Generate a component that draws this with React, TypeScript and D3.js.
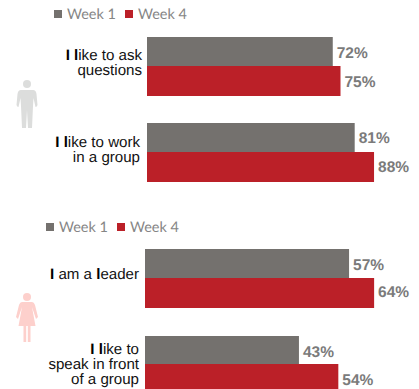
import React from "react";
import * as d3 from "d3";

const weeks = ["Week 1", "Week 4"];
const colors = ["#74716e", "#bb2028"];
const topCategories = [["I like to ask", "questions"], ["I like to work", "in a group"]];
const topWeek1 = [72, 80.5];
const topWeek4 = [75, 88];
const bottomCategories = [["I am a leader"], ["I like to", "speak in front", "of a group"]];
const bottomWeek1 = [57, 43];
const bottomWeek4 = [64, 54];

const Styled = ({ s }: { s: string }) => (
  <>
    {s.split(/(\bI\b|\bl(?=ike|eader))/).map((p, i) =>
      p === "I" || p === "l" ? <tspan key={i} fontWeight="bold" fill="#000">{p}</tspan> : <tspan key={i}>{p}</tspan>
    )}
  </>
);

const valueStyle = { fontFamily: "Liberation Sans", fontWeight: "bold", fontSize: 15.5, fill: "#7b7b7b", textRendering: "geometricPrecision" } as any;

function Group({ cats, w1, w4, x0, k, tops, h1, h2, labelX, labelYs, valDx, dy1, dy2, labelSize }: any) {
  const x = d3.scaleLinear().domain([0, 100]).range([x0, x0 + k * 100]);
  return (
    <g>
      {cats.map((c: string[], i: number) => (
        <g key={i}>
          <rect x={x0} y={tops[i]} width={x(w1[i]) - x0} height={h1[i]} fill={colors[0]} />
          <rect x={x0} y={tops[i] + h1[i]} width={x(w4[i]) - x0} height={h2[i]} fill={colors[1]} />
          <text x={x(w1[i]) + valDx} y={tops[i] + 21 + dy1[i]} style={valueStyle}>{Math.round(w1[i])}%</text>
          <text x={x(w4[i]) + valDx} y={tops[i] + h1[i] + 21 + dy2[i]} style={valueStyle}>{Math.round(w4[i])}%</text>
          {c.map((line, j) => (
            <text key={j} x={labelX[i]} y={labelYs[i] + j * 15.3} textAnchor="end" fontFamily="Liberation Sans" fontSize={labelSize} fill="#111" textRendering="geometricPrecision">
              <Styled s={line} />
            </text>
          ))}
        </g>
      ))}
    </g>
  );
}

function Legend({ x, y }: { x: number; y: number }) {
  const offs = [0, 71];
  return (
    <g>
      {weeks.map((w, i) => (
        <g key={w}>
          <rect x={x + offs[i]} y={y} width={8} height={8} fill={colors[i]} />
          <text x={x + offs[i] + 13} y={y + 9} fontFamily="Lato" fontSize={14.5} fill="#858585" textRendering="geometricPrecision">{w}</text>
        </g>
      ))}
    </g>
  );
}

export default function App() {
  return (
    <svg width={419} height={389} style={{ position: "absolute", left: 0, top: 0 }}>
      <Legend x={54} y={10} />
      <Legend x={46} y={223} />
      <Group cats={topCategories} w1={topWeek1} w4={topWeek4} x0={147} k={2.58} tops={[37, 123]} h1={[29, 29]} h2={[30, 30]}
        labelX={[142, 140]} labelYs={[59.5, 146.5]} valDx={4} dy1={[0, -1]} dy2={[0, -1]} labelSize={15.1} />
      <Group cats={bottomCategories} w1={bottomWeek1} w4={bottomWeek4} x0={145} k={3.58} tops={[249, 336]} h1={[29, 28]} h2={[30, 30]}
        labelX={[139, 139]} labelYs={[279, 353.5]} valDx={4} dy1={[0, 0]} dy2={[-2, 0]} labelSize={15.1} />
      {/* man */}
      <g fill="#dcdddc">
        <circle cx={27} cy={84} r={4} />
        <path d="M21 90 H33 Q36 90 36.5 94 L37.5 105 Q37 107 35.5 107 L33.5 98 L33 106 L32 128 H28 L27 110 L26 128 H22 L21 106 L20.5 98 L18.5 107 Q17 107 16.5 105 L17.5 94 Q18 90 21 90 Z" />
      </g>
      {/* woman */}
      <g fill="#fdd0cc">
        <circle cx={27} cy={297} r={4} />
        <path d="M22 302 H32 Q34 302 35 305 L38 317 L36 319 L32 307 L35.5 326 H30.5 V342 H27.8 V326 H26.2 V342 H23.5 V326 H18.5 L22 307 L18 319 L16 317 L19 305 Q20 302 22 302 Z" />
      </g>
    </svg>
  );
}
